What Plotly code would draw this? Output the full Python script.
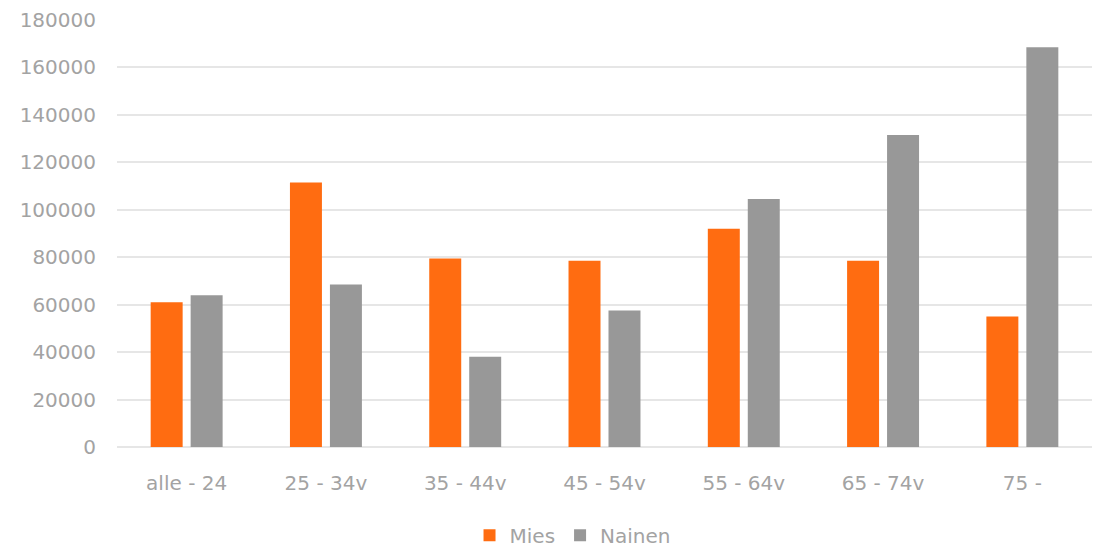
import plotly.graph_objects as go

categories = ["alle - 24", "25 - 34v", "35 - 44v", "45 - 54v", "55 - 64v", "65 - 74v", "75 -"]
mies = [61000, 111500, 79500, 78500, 92000, 78500, 55000]
nainen = [64000, 68500, 38000, 57500, 104500, 131500, 168500]

FONT = "DejaVu Sans"
TXT = "#a3a3a3"

fig = go.Figure()
fig.add_trace(go.Bar(name="Mies", x=categories, y=mies, marker=dict(color="#FF6C11", line=dict(width=0))))
fig.add_trace(go.Bar(name="Nainen", x=categories, y=nainen, marker=dict(color="#989898", line=dict(width=0))))

fig.update_layout(
    width=1101, height=550,
    margin=dict(l=117, r=9, t=20, b=103, autoexpand=False),
    paper_bgcolor="white", plot_bgcolor="white",
    barmode="group", bargap=0.426, bargroupgap=0.2,
    font=dict(family=FONT, size=20, color=TXT),
    showlegend=True,
    legend=dict(orientation="h", x=0.52, xanchor="center", xref="container",
                y=0.027, yanchor="middle", yref="container",
                font=dict(family=FONT, size=20, color=TXT), itemwidth=30, traceorder="normal"),
    xaxis=dict(showgrid=False, showline=False, ticks="", tickfont=dict(family=FONT, size=20, color=TXT),
               ticklabelstandoff=22),
    yaxis=dict(range=[0, 180000], dtick=20000, showgrid=True, gridcolor="#e6e6e6", gridwidth=1.5,
               zeroline=True, zerolinecolor="#e6e6e6", zerolinewidth=1.5, showline=False, ticks="",
               tickformat="d", tickfont=dict(family=FONT, size=20, color=TXT), ticklabelstandoff=20),
)

fig.write_html("out.html")
